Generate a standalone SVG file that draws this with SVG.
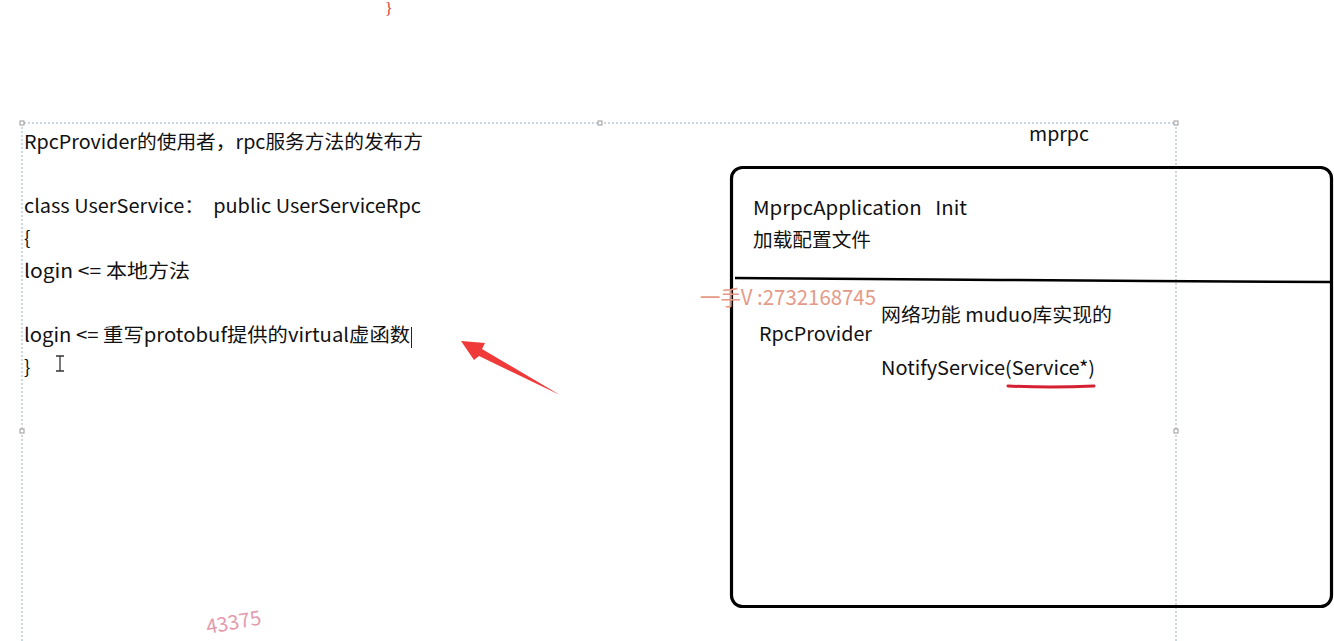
<svg xmlns="http://www.w3.org/2000/svg" width="1334" height="641" viewBox="0 0 1334 641">
<style>
.t{font-family:"Noto Sans CJK SC","Microsoft YaHei",sans-serif;font-size:19px;fill:#111;white-space:pre}
.sel{fill:none;stroke:#8fb0c8;stroke-width:1;stroke-dasharray:2 2}
.h{fill:#fff;stroke:#999;stroke-width:1}
.wm{font-family:"Noto Sans CJK SC",sans-serif;fill:#e59a88}
</style>
<rect width="1334" height="641" fill="#fff"/>
<text x="385" y="14" style="font-family:'Liberation Serif',serif;font-size:16px;fill:#d9383a">}</text>

<g id="selection">
<path class="sel" d="M22,641 V123 H1176 V641"/>
<rect class="h" x="20" y="121" width="4" height="4"/>
<rect class="h" x="598" y="121" width="4" height="4"/>
<rect class="h" x="1174" y="121" width="4" height="4"/>
<rect class="h" x="20" y="429" width="4" height="4"/>
<rect class="h" x="1174" y="429" width="4" height="4"/>
</g>

<g id="code">
<text class="t" x="24" y="149" textLength="399" lengthAdjust="spacingAndGlyphs">RpcProvider的使用者，rpc服务方法的发布方</text>
<text class="t" x="24" y="213" textLength="397" lengthAdjust="spacingAndGlyphs">class UserService：  public UserServiceRpc</text>
<text class="t" x="24" y="245">{</text>
<text class="t" x="24" y="278" textLength="166" lengthAdjust="spacingAndGlyphs">login &lt;= 本地方法</text>
<text class="t" x="24" y="342" textLength="386" lengthAdjust="spacingAndGlyphs">login &lt;= 重写protobuf提供的virtual虚函数</text>
<line x1="411.5" y1="327" x2="411.5" y2="348" stroke="#222" stroke-width="1"/>
<text class="t" x="24" y="374">}</text>
<path d="M56,356 H64 M60,356 V371 M56,371 H64" stroke="#333" stroke-width="1.3" fill="none"/>
</g>

<g id="arrow">
<polygon points="461,341 485,343 482,349 560,395 479,356 474,360" fill="#f03a3a"/>
</g>

<g id="mprpc">
<text class="t" x="1029" y="141" textLength="60" lengthAdjust="spacingAndGlyphs">mprpc</text>
<rect x="731.5" y="167.5" width="600" height="439" rx="11" fill="none" stroke="#000" stroke-width="3.2"/>
<path d="M735,278 L800,278.5 L1000,280 L1150,281 L1331,282" fill="none" stroke="#000" stroke-width="2.5"/>
</g>

<g id="app">
<text class="t" x="753" y="215" textLength="214" lengthAdjust="spacingAndGlyphs" xml:space="preserve">MprpcApplication   Init</text>
<text class="t" x="753" y="247" textLength="118" lengthAdjust="spacingAndGlyphs">加载配置文件</text>
</g>

<g id="provider">
<text class="t" x="759" y="341" textLength="113" lengthAdjust="spacingAndGlyphs">RpcProvider</text>
<text class="t" x="881" y="322" textLength="231" lengthAdjust="spacingAndGlyphs">网络功能 muduo库实现的</text>
<text class="t" x="881" y="375" textLength="214" lengthAdjust="spacingAndGlyphs">NotifyService(Service*)</text>
<path d="M1008,386 Q1050,388 1094,386" stroke="#d42030" stroke-width="3" fill="none" stroke-linecap="round"/>
</g>

<g id="watermarks">
<text class="wm" x="700" y="305" font-size="21" textLength="176" lengthAdjust="spacingAndGlyphs">一手V :2732168745</text>
<text class="wm" x="206" y="630" font-size="20" style="fill:#e49aae" transform="rotate(-10 230 624)">43375</text>
</g>
</svg>
